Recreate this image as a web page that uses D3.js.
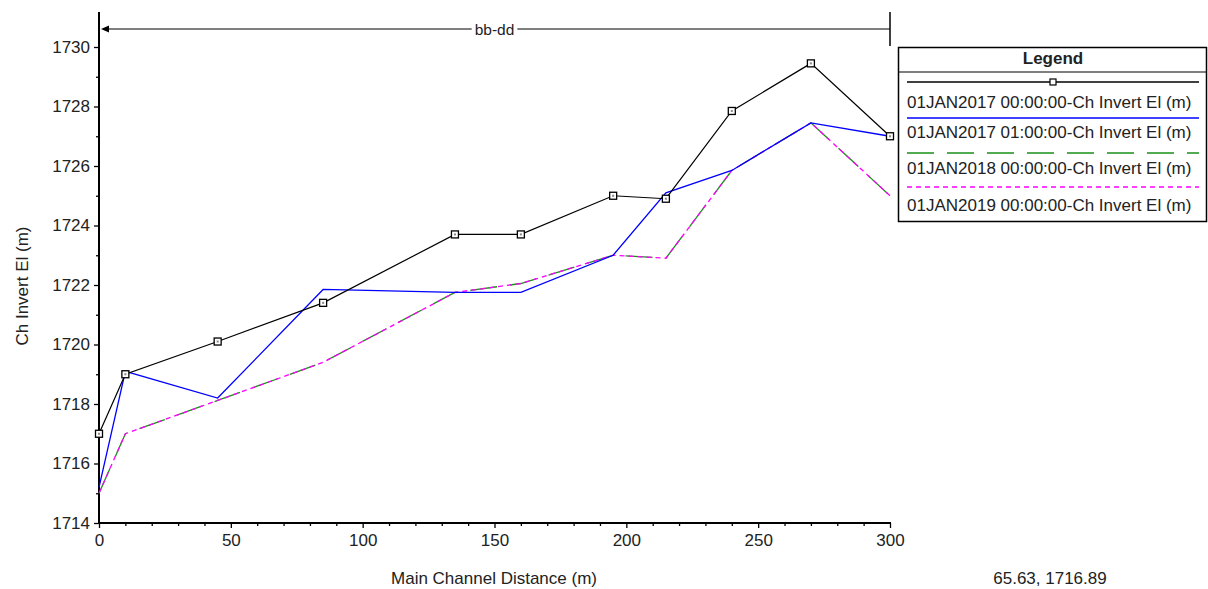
<!DOCTYPE html>
<html><head><meta charset="utf-8">
<script src="https://cdn.jsdelivr.net/npm/d3@7"></script>
<style>body{margin:0;background:#fff}svg{display:block}text{font-family:"Liberation Sans",Arial,sans-serif}</style>
</head><body>
<script>
const distances = [0, 10, 45, 85, 135, 160, 195, 215, 240, 270, 300];
const s2017_00 = [1717.0, 1719.0, 1720.1, 1721.4, 1723.7, 1723.7, 1725.0, 1724.9, 1727.85, 1729.45, 1727.0];
const s2017_01 = [1715.2, 1719.1, 1718.2, 1721.85, 1721.75, 1721.75, 1723.0, 1725.1, 1725.85, 1727.45, 1727.0];
const s2018 = [1715.0, 1717.0, 1718.12, 1719.4, 1721.75, 1722.05, 1723.0, 1722.9, 1725.85, 1727.45, 1725.0];
const s2019 = [1715.0, 1717.0, 1718.12, 1719.4, 1721.75, 1722.05, 1723.0, 1722.9, 1725.85, 1727.45, 1725.0];
const seriesNames = ["01JAN2017 00:00:00-Ch Invert El (m)", "01JAN2017 01:00:00-Ch Invert El (m)", "01JAN2018 00:00:00-Ch Invert El (m)", "01JAN2019 00:00:00-Ch Invert El (m)"];
const xTicks = [0, 50, 100, 150, 200, 250, 300];
const yTicks = [1714, 1716, 1718, 1720, 1722, 1724, 1726, 1728, 1730];
const xLabel = "Main Channel Distance (m)";
const yLabel = "Ch Invert El (m)";
const reachLabel = "bb-dd";
const cursorText = "65.63, 1716.89";

const W = 1208, H = 589;
const svg = d3.select("body").append("svg").attr("width", W).attr("height", H);
const x = d3.scaleLinear().domain([0, 300]).range([99, 890]);
const y = d3.scaleLinear().domain([1714, 1730]).range([523, 47]);
const FS = 17;

const styles = [
  {color: "#000", width: 1.2, dash: null, marker: true},
  {color: "#0000ff", width: 1.3, dash: null, marker: false},
  {color: "#1a8f1a", width: 1.3, dash: "27,13", marker: false},
  {color: "#ff00ff", width: 1.3, dash: "5,4", marker: false}
];
const allSeries = [s2017_00, s2017_01, s2018, s2019];

// axes
const gy = svg.append("g").attr("transform", "translate(99,0)");
gy.call(d3.axisLeft(y).tickValues(yTicks).tickFormat(d3.format("d")).tickSize(5).tickPadding(4));
gy.append("g").call(d3.axisLeft(y).tickValues(d3.range(1715, 1730, 2)).tickSize(3).tickFormat(""));
gy.selectAll(".domain").remove();
svg.append("line").attr("x1", 99).attr("x2", 99).attr("y1", 12).attr("y2", 524).attr("stroke", "#000").attr("stroke-width", 2);

const gx = svg.append("g").attr("transform", "translate(0,523)");
gx.call(d3.axisBottom(x).tickValues(xTicks).tickFormat(d3.format("d")).tickSize(5).tickPadding(6));
gx.append("g").call(d3.axisBottom(x).tickValues(d3.range(10, 300, 10).filter(v => v % 50 !== 0)).tickSize(3).tickFormat(""));
gx.selectAll(".domain").remove();
svg.append("line").attr("x1", 98).attr("x2", 891).attr("y1", 523).attr("y2", 523).attr("stroke", "#000").attr("stroke-width", 2);
svg.selectAll(".tick line").attr("stroke", "#000").attr("stroke-width", 1.3);
svg.selectAll(".tick text").attr("font-size", FS).attr("fill", "#222").style("font-family", '"Liberation Sans",Arial,sans-serif');

// reach annotation
svg.append("line").attr("x1", 103).attr("x2", 890).attr("y1", 29).attr("y2", 29).attr("stroke", "#000").attr("stroke-width", 1.2);
svg.append("line").attr("x1", 890).attr("x2", 890).attr("y1", 12).attr("y2", 46).attr("stroke", "#000").attr("stroke-width", 1.5);
svg.append("path").attr("d", "M101,29 L109,25.5 L109,32.5 Z").attr("fill", "#000");
const rg = svg.append("g");
const rrect = rg.append("rect").attr("fill", "#fff");
const rl = rg.append("text").attr("x", (x(0) + x(300)) / 2).attr("y", 35).attr("text-anchor", "middle").attr("font-size", 15.5).attr("fill", "#222").text(reachLabel);
const bb = rl.node().getBBox();
rrect.attr("x", bb.x - 3).attr("y", bb.y).attr("width", bb.width + 6).attr("height", bb.height);

// series lines
const line = d3.line().x((d, i) => x(distances[i])).y(d => y(d));
[2, 3, 1, 0].forEach(k => {
  const st = styles[k];
  svg.append("path").datum(allSeries[k]).attr("d", line).attr("fill", "none")
    .attr("stroke", st.color).attr("stroke-width", st.width).attr("stroke-dasharray", st.dash);
});
// markers
svg.selectAll(".mk").data(s2017_00).enter().append("rect").attr("class", "mk")
  .attr("x", (d, i) => x(distances[i]) - 3.5).attr("y", d => y(d) - 3.5).attr("width", 7).attr("height", 7)
  .attr("fill", "#fff").attr("stroke", "#000").attr("stroke-width", 1.3);
svg.selectAll(".mkd").data(s2017_00).enter().append("rect").attr("class", "mkd")
  .attr("x", (d, i) => x(distances[i]) - 1).attr("y", d => y(d) - 1).attr("width", 2).attr("height", 2).attr("fill", "#888");

// axis labels
svg.append("text").attr("x", 494).attr("y", 584).attr("text-anchor", "middle").attr("font-size", FS).attr("fill", "#222").text(xLabel);
svg.append("text").attr("transform", "translate(28,286) rotate(-90)").attr("text-anchor", "middle").attr("font-size", FS).attr("fill", "#222").text(yLabel);
svg.append("text").attr("x", 1050).attr("y", 584).attr("text-anchor", "middle").attr("font-size", FS).attr("fill", "#222").text(cursorText);

// legend
const lg = svg.append("g");
lg.append("rect").attr("x", 898.5).attr("y", 47.5).attr("width", 308).attr("height", 174).attr("fill", "#fff").attr("stroke", "#000").attr("stroke-width", 1.5);
lg.append("line").attr("x1", 898).attr("x2", 1207).attr("y1", 72).attr("y2", 72).attr("stroke", "#000").attr("stroke-width", 1.2);
lg.append("text").attr("x", 1053).attr("y", 64).attr("text-anchor", "middle").attr("font-size", FS).attr("font-weight", "bold").attr("fill", "#222").text("Legend");
const lineYs = [82, 118, 153, 187];
const textYs = [108, 138, 174, 211];
seriesNames.forEach((name, k) => {
  const st = styles[k];
  lg.append("line").attr("x1", 907).attr("x2", 1199).attr("y1", lineYs[k]).attr("y2", lineYs[k])
    .attr("stroke", st.color).attr("stroke-width", st.width + 0.2).attr("stroke-dasharray", st.dash);
  if (st.marker) {
    lg.append("rect").attr("x", 1050).attr("y", lineYs[k] - 3).attr("width", 6).attr("height", 6).attr("fill", "#fff").attr("stroke", "#000").attr("stroke-width", 1.2);
  }
  lg.append("text").attr("x", 907).attr("y", textYs[k]).attr("font-size", FS).attr("fill", "#222").text(name);
});
</script>
</body></html>
